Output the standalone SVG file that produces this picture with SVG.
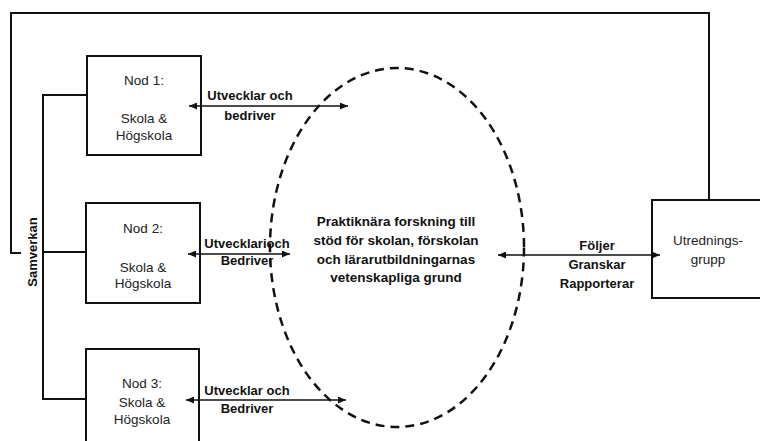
<svg xmlns="http://www.w3.org/2000/svg" width="760" height="441" viewBox="0 0 760 441">
<defs>
<style>
.box{fill:#fff;stroke:#111;stroke-width:2}
.ln{fill:none;stroke:#111;stroke-width:2}
.arr{fill:none;stroke:#111;stroke-width:1.6;marker-start:url(#ah);marker-end:url(#ah)}
.nt{font-family:"Liberation Sans",Arial,sans-serif;font-size:13.5px;fill:#222;text-anchor:middle}
.lb{font-family:"Liberation Sans",Arial,sans-serif;font-size:13px;font-weight:bold;fill:#111;text-anchor:middle}
.ct{font-family:"Liberation Sans",Arial,sans-serif;font-size:13.5px;font-weight:bold;fill:#111;text-anchor:middle}
</style>
<marker id="ah" viewBox="0 0 8 7" markerWidth="8" markerHeight="7" refX="8" refY="3.5" markerUnits="userSpaceOnUse" orient="auto-start-reverse">
<path d="M0,0 L8,3.5 L0,7 z" fill="#111"/>
</marker>
</defs>
<rect width="760" height="441" fill="#fff"/>

<g id="center">
<ellipse cx="397" cy="247.5" rx="127" ry="179.5" fill="none" stroke="#111" stroke-width="2.5" stroke-dasharray="9 6"/>
<text class="ct" x="396" y="226">Praktiknära forskning till</text>
<text class="ct" x="396" y="245">stöd för skolan, förskolan</text>
<text class="ct" x="396" y="264">och lärarutbildningarnas</text>
<text class="ct" x="396" y="282">vetenskapliga grund</text>
</g>

<g id="nod1">
<rect class="box" x="87" y="56" width="114" height="99"/>
<text class="nt" x="144" y="85">Nod 1:</text>
<text class="nt" x="144" y="123">Skola &amp;</text>
<text class="nt" x="144" y="140">Högskola</text>
</g>

<g id="nod2">
<rect class="box" x="86" y="203" width="114" height="100"/>
<text class="nt" x="143" y="233">Nod 2:</text>
<text class="nt" x="143" y="272">Skola &amp;</text>
<text class="nt" x="143" y="288">Högskola</text>
</g>

<g id="nod3">
<rect class="box" x="86" y="349" width="113" height="110"/>
<text class="nt" x="142" y="388">Nod 3:</text>
<text class="nt" x="142" y="407">Skola &amp;</text>
<text class="nt" x="142" y="424">Högskola</text>
</g>

<g id="utredningsgrupp">
<rect class="box" x="652" y="200" width="120" height="98"/>
<text class="nt" x="708" y="245">Utrednings-</text>
<text class="nt" x="708" y="264">grupp</text>
</g>

<g id="connectors">
<path class="ln" d="M21,253 H11 V13 H709 V200"/>
<path class="ln" d="M87,95 H43 V399 H86 M43,252 H86"/>
<line class="arr" x1="189" y1="106" x2="348" y2="106"/>
<line class="arr" x1="188" y1="254" x2="290" y2="254"/>
<line class="arr" x1="186" y1="400" x2="346" y2="400"/>
<line class="arr" x1="498" y1="255" x2="660" y2="255"/>
<text class="lb" x="250" y="100">Utvecklar och</text>
<text class="lb" x="250" y="120">bedriver</text>
<text class="lb" x="247" y="248">Utvecklarioch</text>
<text class="lb" x="247" y="265">Bedriver</text>
<text class="lb" x="247" y="395">Utvecklar och</text>
<text class="lb" x="247" y="413">Bedriver</text>
<text class="lb" x="597" y="250">Följer</text>
<text class="lb" x="597" y="269">Granskar</text>
<text class="lb" x="597" y="288">Rapporterar</text>
<text class="lb" transform="translate(37,252) rotate(-90)">Samverkan</text>
</g>
</svg>
